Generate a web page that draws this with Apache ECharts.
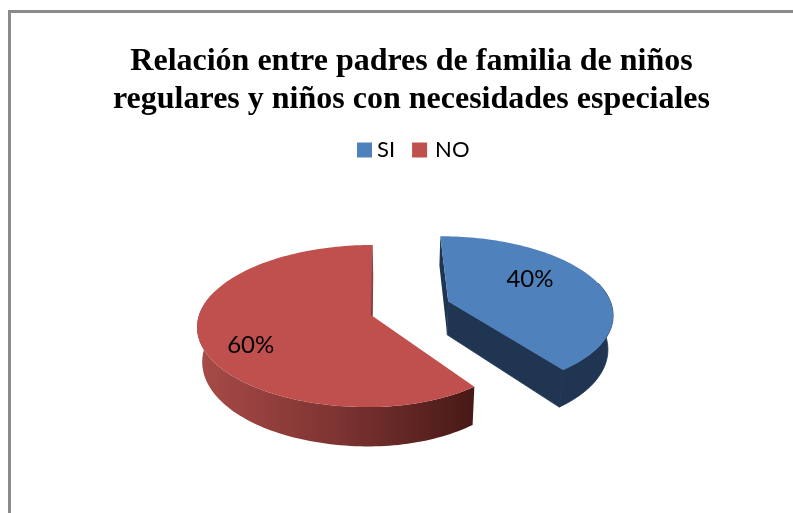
<!DOCTYPE html>
<html><head><meta charset="utf-8">
<style>html,body{margin:0;padding:0;background:#fff}#c{width:793px;height:513px}</style>
<script src="https://cdn.jsdelivr.net/npm/echarts@6/dist/echarts.min.js"></script>
</head><body><div id="c"></div>
<script>
const categories = ['SI', 'NO'];
const values = [40, 60];
const labels = ['40%', '60%'];
const titleLines = ['Relación entre padres de familia de niños', 'regulares y niños con necesidades especiales'];
const topColors = ['#4F81BD', '#C0504D'];

// perspective camera of the tilted pie
const R = 172, K = 0.136, XC = 390, YH = -270, A = 585, H = 34, XC2 = 405, SHR = 0.975;
const START = -0.5;
const EXPLODE = [0.482, 0];
const EXPLODE_Y = 1.13;
const RIGHT_SCALE = [0.965, 0.92];
const BACK_SCALE = [0.97, 1];
const LABEL_R = [0.6, 0.7];
const LABEL_OFF = [[-7, -9], [-2, 12]];
const APEX_X = -19;
const WALL_FROM = 75, WALL_TO = 285;

function project(X, Y, low) {
  const s = 1 / (1 - K * Y);
  let x = XC + X * s, y = YH + A * s;
  if (low) { x = XC2 + (x - XC2) * SHR; y += H * s; }
  return [x, y];
}
const total = values.reduce((a, b) => a + b, 0);
function sliceGeom(i) {
  let before = 0;
  for (let j = 0; j < i; j++) before += values[j];
  const a0 = START + before / total * 360, a1 = a0 + values[i] / total * 360;
  const mid = (a0 + a1) / 2 * Math.PI / 180;
  const cx = APEX_X + EXPLODE[i] * R * Math.sin(mid);
  const cy = -EXPLODE[i] * EXPLODE_Y * Math.cos(mid);
  const pt = (deg, r) => {
    const t = deg * Math.PI / 180;
    let dx = r * R * Math.sin(t), dy = -r * Math.cos(t);
    if (dx > 0) dx *= RIGHT_SCALE[i];
    if (dy < 0) dy *= BACK_SCALE[i];
    return [cx + dx, cy + dy];
  };
  const arc = (low, from, to) => {
    const out = [];
    for (let d = from; d < to; d += 1.5) {
      const p = pt(d, 1);
      out.push(project(p[0], p[1], low));
    }
    const e = pt(to, 1);
    out.push(project(e[0], e[1], low));
    return out;
  };
  return { a0, a1, mid, cx, cy, pt, arc };
}
const wallFill = [
  '#1F3552',
  { type: 'linear', x: 0, y: 0, x2: 1, y2: 0, colorStops: [
    { offset: 0, color: '#A84B48' }, { offset: 0.5, color: '#7E3432' }, { offset: 1, color: '#471916' } ] }
];
const sideFill = ['#1F3552', '#7A2F2D'];

function renderSlice(i) {
  const g = sliceGeom(i);
  const topArc = g.arc(false, g.a0, g.a1);
  const lowArc = g.arc(true, g.a0, g.a1);
  const from = Math.max(g.a0, WALL_FROM), to = Math.min(g.a1, WALL_TO);
  const wallTop = g.arc(false, from, to), wallLow = g.arc(true, from, to);
  const apexT = project(g.cx, g.cy, false), apexL = project(g.cx, g.cy, true);
  const children = [];
  // cut face at the start of the slice (only the right slice shows it)
  if (i === 0) {
    children.push({ type: 'polygon', shape: { points: [apexT, topArc[0], lowArc[0], apexL] },
      style: { fill: sideFill[i] } });
  }
  // cut face at the end of the slice
  children.push({ type: 'polygon', shape: { points: [apexT, topArc[topArc.length - 1], lowArc[lowArc.length - 1], apexL] },
    style: { fill: sideFill[i], stroke: sideFill[i], lineWidth: 0.8 } });
  // outer wall
  children.push({ type: 'polygon', shape: { points: wallTop.concat(wallLow.slice().reverse()) },
    style: { fill: wallFill[i], stroke: i === 0 ? sideFill[i] : null, lineWidth: 0.8 } });
  // top face
  children.push({ type: 'polygon', shape: { points: [apexT].concat(topArc) },
    style: { fill: topColors[i] } });
  const lp = g.pt((g.a0 + g.a1) / 2, LABEL_R[i]);
  const lq = project(lp[0], lp[1], false);
  children.push({ type: 'text', x: lq[0] + LABEL_OFF[i][0], y: lq[1] + LABEL_OFF[i][1],
    style: { text: labels[i], fill: '#000', font: '24px Lato', align: 'center', verticalAlign: 'middle' } });
  return { type: 'group', children };
}

const chart = echarts.init(document.getElementById('c'), null, { renderer: 'canvas' });
chart.setOption({
  animation: false,
  backgroundColor: '#fff',
  title: {
    text: titleLines.join('\n'), left: 406.5, top: 38, textAlign: 'center',
    textStyle: { fontFamily: '"Liberation Serif"', fontWeight: 'bold', fontSize: 32, lineHeight: 38, color: '#000' }
  },
  legend: {
    data: [{ name: 'SI' }, { name: 'NO', textStyle: { padding: [0, 0, 0, 3] } }],
    left: 357, top: 139, padding: 0, icon: 'rect', itemWidth: 15, itemHeight: 15, itemGap: 17,
    textStyle: { fontFamily: 'Lato', fontSize: 22, color: '#000' },
    selectedMode: false
  },
  graphic: [{ type: 'rect', silent: true, z: -1,
    shape: { x: 9.5, y: 11.5, width: 1000, height: 1000 },
    style: { fill: 'none', stroke: '#8A8A8A', lineWidth: 3 } }],
  series: categories.map((name, i) => ({
    type: 'custom', name, coordinateSystem: 'none', silent: true,
    itemStyle: { color: topColors[i] },
    data: [[values[i]]],
    renderItem: () => renderSlice(i)
  }))
});
</script></body></html>
